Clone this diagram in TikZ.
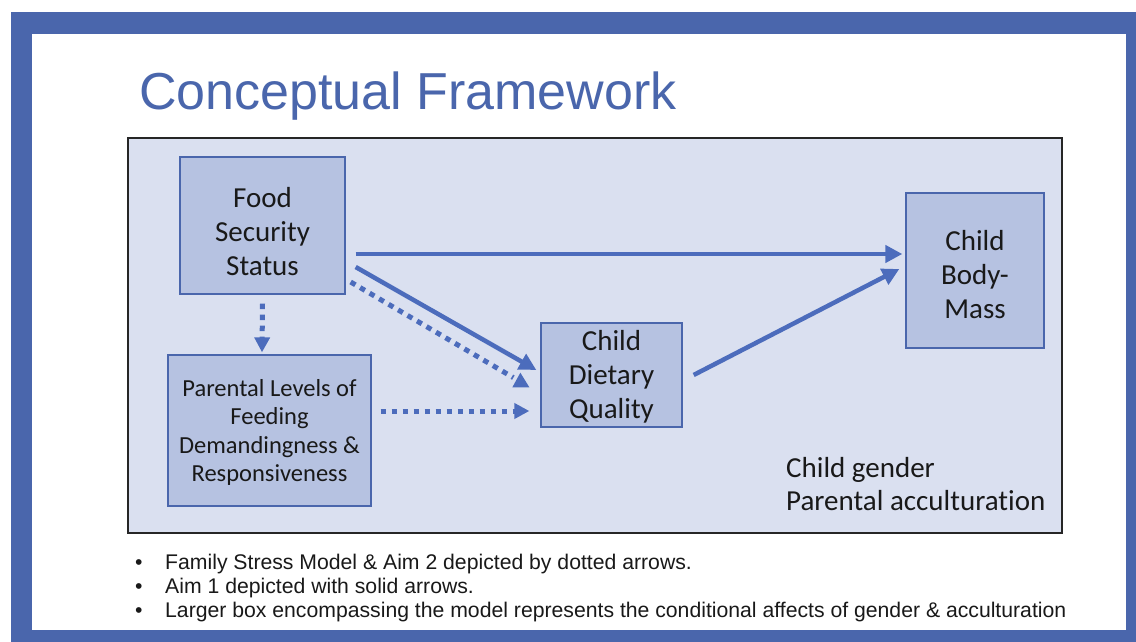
\documentclass[tikz,border=0pt]{standalone}
\usepackage{fontspec}
\setmainfont{Liberation Sans}
\newfontfamily\calib[Ligatures=NoCommon]{Carlito}
\usetikzlibrary{arrows.meta}
\definecolor{frameblue}{HTML}{4A66AC}
\definecolor{arrowblue}{HTML}{4C6CBC}
\definecolor{bigfill}{HTML}{DAE0F0}
\definecolor{nodefill}{HTML}{B6C2E1}
\definecolor{nodeline}{HTML}{4A66AC}
\newcommand\lowtext[2]{\raisebox{-#1}[\height][\depth]{\begin{tabular}{@{}c@{}}#2\end{tabular}}}
\begin{document}
\begin{tikzpicture}[x=1pt,y=-1pt,
  box/.style={draw=nodeline,fill=nodefill,line width=1.3pt,inner sep=0pt,
    font=\calib\fontsize{29}{34}\selectfont,text=black!90},
  solidarrow/.style={draw=arrowblue,line width=4.5pt,-{Triangle[length=17pt,width=17pt]}},
  dotline/.style={draw=arrowblue,line width=5pt,dash pattern=on 5.5pt off 5.5pt},
  dotarrow/.style={dotline,-{Triangle[length=15pt,width=15pt]}}]
\useasboundingbox (0,0) rectangle (1136,642);
\fill[white] (0,0) rectangle (1136,642);
\fill[frameblue] (11,12) rectangle (1136,642);
\fill[white] (32,34) rectangle (1126,630);
\node[anchor=base west,inner sep=0pt,text=frameblue,font=\fontsize{52}{60}\selectfont] (title) at (139,110) {Conceptual Framework};
\draw[draw=black!85,fill=bigfill,line width=1.5pt] (128,138) rectangle (1062,533);
\node[box,minimum width=165pt,minimum height=137pt] (food) at (262.5,225.5) {\lowtext{9pt}{Food\\Security\\Status}};
\node[box,minimum width=203pt,minimum height=151pt,font=\calib\fontsize{24.5}{28.5}\selectfont] (parent) at (269.5,430.5) {\lowtext{3pt}{Parental Levels of\\Feeding\\Demandingness \&\\Responsiveness}};
\node[box,minimum width=141pt,minimum height=104pt] (diet) at (611.5,375) {\lowtext{2.5pt}{Child\\Dietary\\Quality}};
\node[box,minimum width=138pt,minimum height=155pt] (body) at (975,270.5) {\lowtext{7.5pt}{Child\\Body-\\Mass}};
\node[anchor=north west,inner sep=0pt,align=left,font=\calib\fontsize{29}{33}\selectfont,text=black!90] (cond) at (786,457) {Child gender\\Parental acculturation};
\coordinate (dtip) at ([xshift=-20pt,yshift=2.3pt]diet.west);
\coordinate (dend) at ([xshift=-27pt,yshift=-2.6pt]diet.west);
\draw[solidarrow] ([xshift=10pt,yshift=-28.5pt]food.east) -- ([xshift=-3pt,yshift=16.5pt]body.west);
\draw[solidarrow] ([xshift=10pt,yshift=-41.5pt]food.east) -- ([xshift=-4pt,yshift=5pt]diet.west);
\draw[dotline] ([xshift=5pt,yshift=-56.5pt]food.east) -- (dend);
\fill[arrowblue] (dtip) -- ++(-8,14.6) -- ++(17,0) -- cycle;
\draw[dotarrow] ([xshift=9pt,yshift=19.5pt]parent.east) -- ([xshift=-11pt,yshift=-36pt]diet.west);
\draw[dotarrow] ([yshift=-9pt]food.south) -- ([xshift=-7.5pt,yshift=2pt]parent.north);
\draw[solidarrow] ([xshift=11pt]diet.east) -- ([xshift=-6pt,yshift=1.5pt]body.west);
\node[anchor=north west,inner sep=0pt,font=\fontsize{21.2}{24}\selectfont,text=black!90] (notes) at (135,552) {%
\begin{tabular}{@{}p{30pt}@{}l@{}}
\textbullet & Family Stress Model \& Aim 2 depicted by dotted arrows.\\
\textbullet & Aim 1 depicted with solid arrows.\\
\textbullet & Larger box encompassing the model represents the conditional affects of gender \& acculturation
\end{tabular}};
\end{tikzpicture}
\end{document}
